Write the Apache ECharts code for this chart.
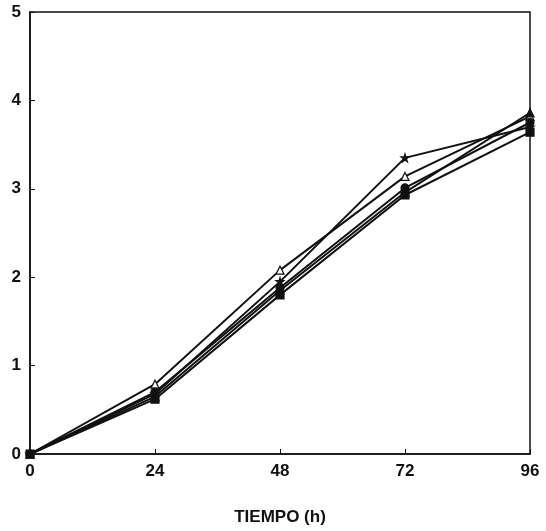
<!DOCTYPE html>
<html>
<head>
<meta charset="utf-8">
<script src="https://cdn.jsdelivr.net/npm/echarts@6/dist/echarts.min.js"></script>
<style>html,body{margin:0;padding:0;background:#fff}#c{width:546px;height:531px}</style>
</head>
<body>
<div id="c"></div>
<script>
const hours = [0, 24, 48, 72, 96];
const yTicks = [0, 1, 2, 3, 4, 5];
const serieTriangulo = [0, 0.79, 2.08, 3.14, 3.82];
const serieEstrella = [0, 0.68, 1.95, 3.35, 3.70];
const serieCuadro = [0, 0.62, 1.80, 2.93, 3.64];
const serieCirculo = [0, 0.70, 1.88, 3.01, 3.75];
const serieCruz = [0, 0.65, 1.85, 2.96, 3.86];
const xTitle = 'TIEMPO (h)';

const starPath = 'path://M50,0 L61,35 L98,35 L68,57 L79,91 L50,70 L21,91 L32,57 L2,35 L39,35 Z';
function mk(name, data, symbol, fill) {
  return {
    name, type: 'line',
    data: hours.map((h, i) => [h, data[i]]),
    symbol, symbolSize: 8,
    lineStyle: { color: '#111', width: 2 },
    itemStyle: { color: fill, borderColor: '#111', borderWidth: 1.2 },
    emphasis: { disabled: true }
  };
}
const chart = echarts.init(document.getElementById('c'));
chart.setOption({
  animation: false,
  backgroundColor: '#fff',
  grid: { left: 30, right: 16, top: 12, bottom: 74, show: true, borderColor: '#111', borderWidth: 1.5 },
  xAxis: {
    type: 'value', min: 0, max: 96, interval: 24,
    name: xTitle, nameLocation: 'middle', nameGap: 55,
    nameTextStyle: { fontFamily: 'Liberation Sans', fontWeight: 'bold', fontSize: 17, color: '#111' },
    axisLine: { lineStyle: { color: '#111', width: 1.5 } },
    axisTick: { inside: true, length: 5, lineStyle: { color: '#111' } },
    axisLabel: { margin: 9, fontFamily: 'Liberation Sans', fontWeight: 'bold', fontSize: 17, color: '#111',
      formatter: v => hours.includes(v) ? String(v) : '' },
    splitLine: { show: false }
  },
  yAxis: {
    type: 'value', min: 0, max: 5, interval: 1,
    axisLine: { show: true, lineStyle: { color: '#111', width: 1.5 } },
    axisTick: { show: true, inside: true, length: 5, lineStyle: { color: '#111' } },
    axisLabel: { margin: 9, fontFamily: 'Liberation Sans', fontWeight: 'bold', fontSize: 17, color: '#111',
      formatter: v => yTicks.includes(v) ? String(v) : '' },
    splitLine: { show: false }
  },
  series: [
    mk('A', serieTriangulo, 'triangle', '#fff'),
    mk('B', serieEstrella, starPath, '#111'),
    mk('C', serieCuadro, 'rect', '#111'),
    mk('D', serieCirculo, 'circle', '#111'),
    mk('E', serieCruz, 'triangle', '#111')
  ]
});
</script>
</body>
</html>
